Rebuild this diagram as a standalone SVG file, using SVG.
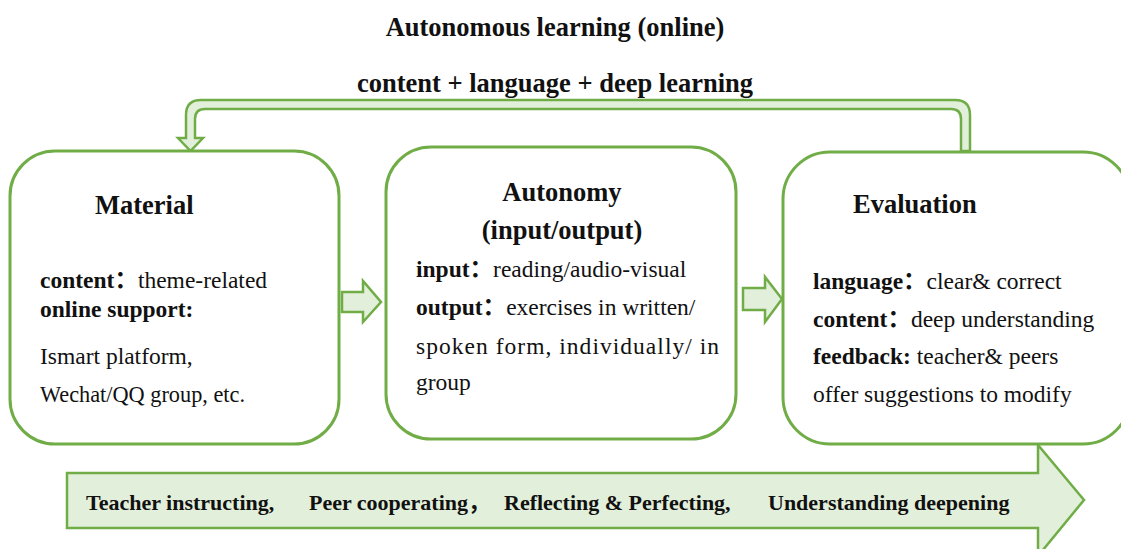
<svg xmlns="http://www.w3.org/2000/svg" width="1121" height="549" viewBox="0 0 1121 549">
  <style>
    .box { fill: #ffffff; stroke: #70ad47; stroke-width: 3; }
    .arrow { fill: #e2efda; stroke: #70ad47; stroke-width: 2.5; stroke-linejoin: miter; }
    text { font-family: "Liberation Serif", "Noto Sans CJK SC", serif; fill: #111111; }
    .title { font-size: 26.5px; font-weight: bold; }
    .head { font-size: 26.5px; font-weight: bold; }
    .body { font-size: 23.5px; }
    .b { font-weight: bold; }
    .band { font-size: 22px; font-weight: bold; }
  </style>

  <!-- headings -->
  <text class="title" x="555" y="36" text-anchor="middle">Autonomous learning (online)</text>
  <text class="title" x="555" y="92" text-anchor="middle">content + language + deep learning</text>

  <!-- connectors -->
  <g id="connectors">
    <!-- feedback loop from Evaluation back to Material -->
    <path class="arrow" d="M 961 151 L 961 119 Q 961 109 951 109 L 205 109 Q 195 109 195 119 L 195 138 L 203 138 L 190.5 151 L 178 138 L 186 138 L 186 115 Q 186 100 201 100 L 955 100 Q 970 100 970 115 L 970 151 Z"/>
    <!-- Material to Autonomy -->
    <path class="arrow" d="M 342 292 L 363 292 L 363 281 L 381 302 L 363 322 L 363 312 L 342 312 Z"/>
    <!-- Autonomy to Evaluation -->
    <path class="arrow" d="M 743 288 L 765 288 L 765 277 L 782 299 L 765 322 L 765 310 L 743 310 Z"/>
    <!-- progress band along the bottom -->
    <path class="arrow" d="M 67 473 L 1038 473 L 1038 445 L 1084 500 L 1038 556 L 1038 528 L 67 528 Z"/>
  </g>

  <!-- Material -->
  <g id="material">
    <rect class="box" x="10" y="151" width="329" height="293" rx="45" ry="45"/>
    <text class="head" x="95" y="214">Material</text>
    <text class="body" x="40" y="288"><tspan class="b">content：</tspan>theme-related</text>
    <text class="body b" x="40" y="317">online support:</text>
    <text class="body" x="40" y="364">Ismart platform,</text>
    <text class="body" x="40" y="402" textLength="205" lengthAdjust="spacingAndGlyphs">Wechat/QQ group, etc.</text>
  </g>

  <!-- Autonomy -->
  <g id="autonomy">
    <rect class="box" x="386" y="147" width="350" height="292" rx="45" ry="45"/>
    <text class="head" x="562" y="201" text-anchor="middle">Autonomy</text>
    <text class="head" x="562" y="239" text-anchor="middle">(input/output)</text>
    <text class="body" x="416" y="277"><tspan class="b">input：</tspan>reading/audio-visual</text>
    <text class="body" x="416" y="315"><tspan class="b">output：</tspan>exercises in written/</text>
    <text class="body" x="416" y="354" textLength="303" lengthAdjust="spacing">spoken form, individually/ in</text>
    <text class="body" x="416" y="390">group</text>
  </g>

  <!-- Evaluation -->
  <g id="evaluation">
    <rect class="box" x="783" y="152" width="347" height="292" rx="47" ry="47"/>
    <text class="head" x="853" y="213">Evaluation</text>
    <text class="body" x="813" y="289"><tspan class="b">language：</tspan>clear&amp; correct</text>
    <text class="body" x="813" y="327"><tspan class="b">content：</tspan>deep understanding</text>
    <text class="body" x="813" y="364"><tspan class="b">feedback:</tspan> teacher&amp; peers</text>
    <text class="body" x="813" y="402">offer suggestions to modify</text>
  </g>

  <!-- labels on the progress band -->
  <g id="stages">
    <text class="band" x="86" y="510">Teacher instructing,</text>
    <text class="band" x="309" y="510">Peer cooperating，</text>
    <text class="band" x="504" y="510">Reflecting &amp; Perfecting,</text>
    <text class="band" x="768" y="510">Understanding deepening</text>
  </g>
</svg>
